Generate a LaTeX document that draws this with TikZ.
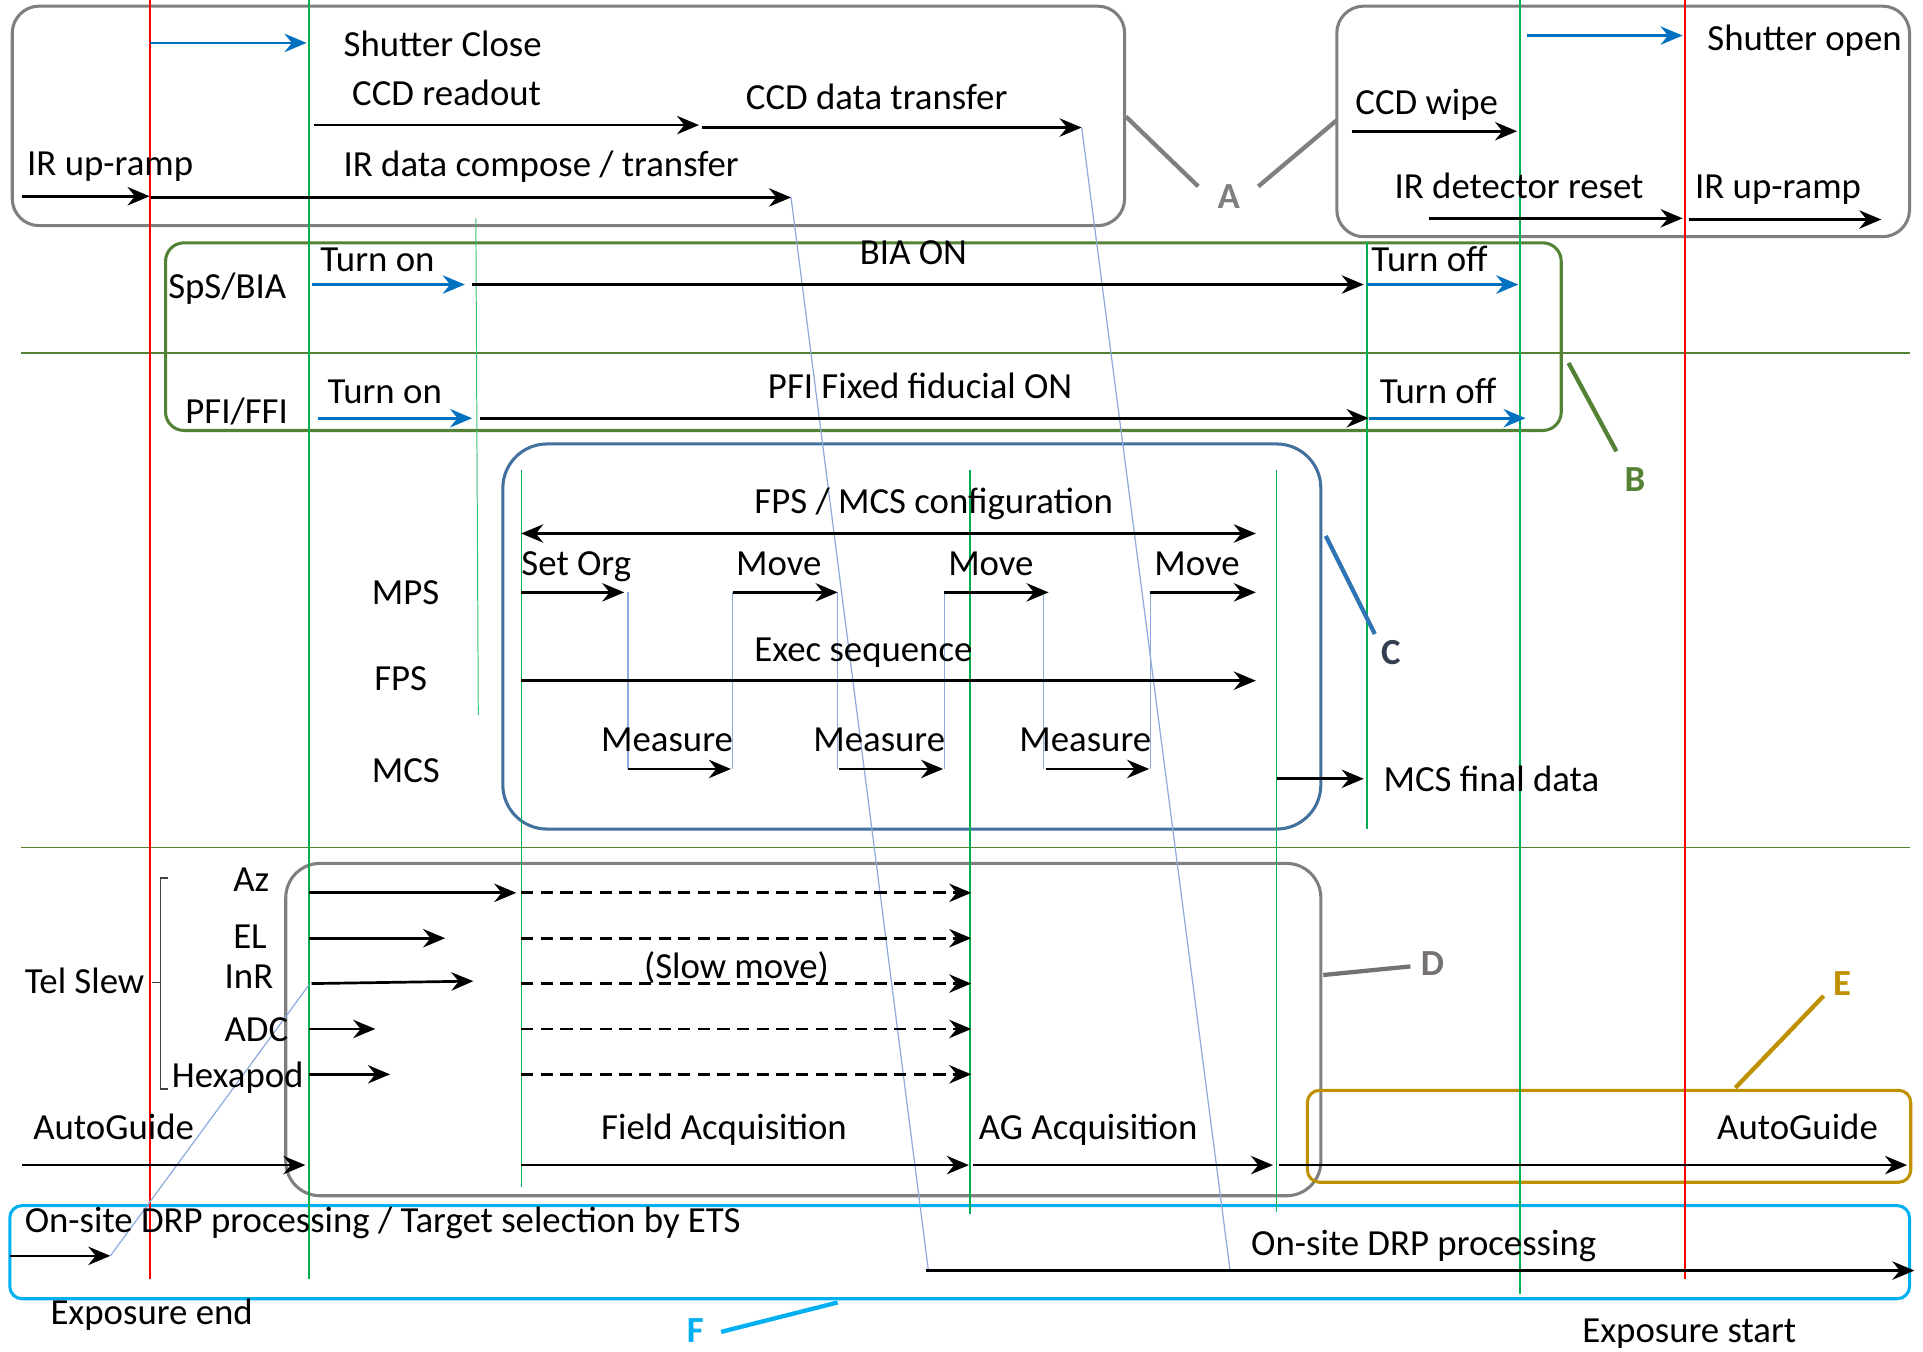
\documentclass[tikz,border=0pt]{standalone}
\usepackage{fontspec}
\setmainfont{Carlito}
\usetikzlibrary{arrows.meta}
\definecolor{framegray}{HTML}{7F7F7F}
\definecolor{labelgray}{HTML}{767171}
\definecolor{olive}{HTML}{548235}
\definecolor{steel}{HTML}{41719C}
\definecolor{leaderblue}{HTML}{2E75B6}
\definecolor{navy}{HTML}{333F50}
\definecolor{gold}{HTML}{BF9000}
\definecolor{cyanF}{HTML}{00B0F0}
\definecolor{sigblue}{HTML}{0070C0}
\definecolor{mark}{HTML}{00B050}
\definecolor{link}{HTML}{8FAADC}
% a segment between two named coordinates
\newcommand\segm[4][arr]{\coordinate (#2-s) at (#3); \coordinate (#2-e) at (#4); \draw[#1] (#2-s) -- (#2-e);}
\begin{document}
\begin{tikzpicture}[x=1pt,y=-1pt,
  lbl/.style={anchor=base west, inner sep=0pt, font=\fontsize{30}{34}\selectfont},
  tag/.style={inner sep=0pt, font=\fontsize{30}{34}\selectfont\bfseries},
  arr/.style={line width=2.2pt, -{Stealth[length=18pt,width=15pt,inset=6pt]}},
  barr/.style={arr, draw=sigblue, -{Stealth[length=18pt,width=15pt,inset=6pt,sigblue]}},
  darr/.style={arr, dash pattern=on 10pt off 6pt},
  dbl/.style={line width=2.2pt, {Stealth[length=18pt,width=15pt,inset=6pt]}-{Stealth[length=18pt,width=15pt,inset=6pt]}},
  frame/.style={line width=2.5pt},
  leader/.style={line width=3.5pt},
  timeline/.style={line width=1.6pt},
  thinmark/.style={line width=1pt, draw=mark},
  linkline/.style={line width=1pt, draw=link}]
\useasboundingbox (0,0) rectangle (1568,1102);

% ---------- group frames ----------
\draw[frame, framegray, rounded corners=22pt] (10,5) rectangle (917,184);
\draw[frame, framegray, rounded corners=22pt] (1090,5) rectangle (1557,193);
\draw[frame, olive, rounded corners=15pt] (135,198) rectangle (1273,351);
\draw[frame, steel, rounded corners=36pt] (410,362) rectangle (1077,676);
\draw[frame, framegray, rounded corners=28pt] (233,704) rectangle (1077,975);
\draw[frame, gold, rounded corners=10pt] (1066,889) rectangle (1558,964);
\draw[frame, cyanF, rounded corners=10pt] (8,983) rectangle (1557,1059);

% ---------- section separators ----------
\coordinate (sep1-w) at (17,288); \coordinate (sep1-e) at (1557,288);
\coordinate (sep2-w) at (17,691); \coordinate (sep2-e) at (1557,691);
\draw[line width=1.5pt, olive] (sep1-w) -- (sep1-e);
\draw[line width=1.5pt, olive] (sep2-w) -- (sep2-e);

% ---------- time markers ----------
\segm[timeline, draw=red]{endmark}{122,0}{122,1043}
\segm[timeline, draw=mark]{m1}{252,0}{252,1043}
\segm[line width=0.8pt, draw=mark!80]{m2}{388,178}{390,583}
\segm[thinmark]{m3}{425,383}{425,968}
\segm[thinmark]{m4}{791,383}{791,990}
\segm[thinmark]{m5}{1041,383}{1041,988}
\segm[timeline, draw=mark]{m6}{1115,197}{1115,676}
\segm[timeline, draw=mark]{m7}{1239,0}{1239,1055}
\segm[timeline, draw=red]{startmark}{1374,0}{1374,1043}

% ---------- dependency links ----------
\segm[linkline]{lk1}{90,1024}{252,803}
\segm[linkline]{lk2}{645,161}{757,1036}
\segm[linkline]{lk3}{882,104}{1003,1036}
\foreach \xx [count=\i] in {512,597,683,770,851,938}
  {\coordinate (v\i-s) at (\xx,483); \coordinate (v\i-e) at (\xx,627); \draw[linkline] (v\i-s) -- (v\i-e);}

% ---------- detector group ----------
\segm[barr]{shc}{122,35}{250,35}
\node[lbl] (tShc) at (280,46) {Shutter Close};
\segm{ro}{256,102}{570,102}
\node[lbl] (tRo) at (287,86) {CCD readout};
\segm{dt}{572,104}{882,104}
\node[lbl] (tDt) at (608,89) {CCD data transfer};
\segm{irl}{18,160}{122,160}
\node[lbl] (tIrl) at (22,143) {IR up-ramp};
\segm{irc}{123,161}{645,161}
\node[lbl] (tIrc) at (280,144) {IR data compose / transfer};

\segm[barr]{sho}{1245,29}{1372,29}
\node[lbl] (tSho) at (1392,41) {Shutter open};
\segm{wipe}{1102,107}{1237,107}
\node[lbl] (tWipe) at (1105,93) {CCD wipe};
\segm{rst}{1165,178}{1372,178}
\node[lbl] (tRst) at (1137,162) {IR detector reset};
\segm{irr}{1377,179}{1534,179}
\node[lbl] (tIrr) at (1382,162) {IR up-ramp};

% ---------- lamps ----------
\node[lbl] (tSps) at (137,243) {SpS/BIA};
\segm[barr]{bon}{254,232}{379,232}
\node[lbl] (tBon) at (261,221) {Turn on};
\segm{bia}{385,232}{1112,232}
\node[lbl] (tBia) at (701,216) {BIA ON};
\segm[barr]{boff}{1115,232}{1238,232}
\node[lbl] (tBoff) at (1118,221) {Turn off};

\node[lbl] (tPfi) at (151,345) {PFI/FFI};
\segm[barr]{pon}{259,341}{385,341}
\node[lbl] (tPon) at (267,329) {Turn on};
\segm{ffi}{391,341}{1116,341}
\node[lbl] (tFfi) at (626,325) {PFI Fixed fiducial ON};
\segm[barr]{poff}{1116,341}{1244,341}
\node[lbl] (tPoff) at (1125,329) {Turn off};

% ---------- positioner / metrology ----------
\node[lbl] (tMps) at (303,493) {MPS};
\node[lbl] (tFps) at (305,563) {FPS};
\node[lbl] (tMcs) at (303,638) {MCS};
\segm[dbl]{cfg}{425,435}{1024,435}
\node[lbl] (tCfg) at (615,419) {FPS / MCS configuration};
\segm{so}{425,483}{509,483}
\node[lbl] (tSo) at (425,469) {Set Org};
\segm{mv1}{598,483}{683,483}
\node[lbl] (tMv1) at (600,469) {Move};
\segm{mv2}{770,483}{855,483}
\node[lbl] (tMv2) at (773,469) {Move};
\segm{mv3}{938,483}{1024,483}
\node[lbl] (tMv3) at (941,469) {Move};
\segm{ex}{425,555}{1024,555}
\node[lbl] (tEx) at (615,539) {Exec sequence};
\segm{ms1}{512,627}{596,627}
\node[lbl] (tMs1) at (490,613) {Measure};
\segm{ms2}{684,627}{769,627}
\node[lbl] (tMs2) at (663,613) {Measure};
\segm{ms3}{853,627}{937,627}
\node[lbl] (tMs3) at (831,613) {Measure};
\segm{fin}{1041,635}{1112,635}
\node[lbl] (tFin) at (1128,645) {MCS final data};

% ---------- telescope ----------
\node[lbl] (tSlew) at (20,810) {Tel Slew};
\coordinate (br-t) at (137,716); \coordinate (br-b) at (137,888); \coordinate (br-m) at (124,801);
\draw[line width=1.2pt, black!75] (br-t) -- ++(-6,0) |- (br-b);
\draw[line width=1.2pt, black!75] (br-m) -- ++(7,0);
\node[lbl] (tAz) at (190,727) {Az};
\segm{az}{252,728}{421,728}
\segm[darr]{azs}{425,728}{792,728}
\node[lbl] (tEl) at (190,773) {EL};
\segm{el}{252,765}{363,765}
\segm[darr]{els}{425,765}{792,765}
\node[lbl] (tInr) at (183,806) {InR};
\segm{inr}{254,802}{386,800}
\segm[darr]{inrs}{425,802}{792,802}
\node[lbl] (tSlow) at (525,798) {(Slow move)};
\node[lbl] (tAdc) at (183,849) {ADC};
\segm{adc}{252,839}{306,839}
\segm[darr]{adcs}{425,839}{792,839}
\node[lbl] (tHex) at (140,887) {Hexapod};
\segm{hex}{252,876}{318,876}
\segm[darr]{hexs}{425,876}{792,876}

% ---------- guiding ----------
\node[lbl] (tAg1) at (27,929) {AutoGuide};
\segm{ag1}{18,950}{249,950}
\segm{fa}{425,950}{790,950}
\node[lbl] (tFa) at (490,929) {Field Acquisition};
\segm{aga}{793,950}{1038,950}
\node[lbl] (tAga) at (798,929) {AG Acquisition};
\segm{ag2}{1043,950}{1555,950}
\node[lbl] (tAg2) at (1400,929) {AutoGuide};

% ---------- data reduction ----------
\node[lbl] (tDrp1) at (20,1005) {On-site DRP processing / Target selection by ETS};
\segm{drp1}{8,1024}{90,1024}
\node[lbl] (tDrp2) at (1020,1024) {On-site DRP processing};
\segm{drp2}{755,1036}{1561,1036}
\node[lbl] (tEnd) at (41,1080) {Exposure end};
\node[lbl] (tStart) at (1290,1095) {Exposure start};

% ---------- group tags ----------
\node[tag, text=framegray] (A) at (1002,160) {A};
\coordinate (A1) at (918,95); \coordinate (A1e) at (977,152);
\coordinate (A2) at (1090,98); \coordinate (A2e) at (1026,152);
\draw[leader, framegray] (A1) -- (A1e);
\draw[leader, framegray] (A2) -- (A2e);
\node[tag, text=olive] (B) at (1333,391) {B};
\coordinate (B1) at (1279,296); \coordinate (B1e) at (1318,368);
\draw[leader, olive] (B1) -- (B1e);
\node[tag, text=navy] (C) at (1134,532) {C};
\coordinate (C1) at (1081,437); \coordinate (C1e) at (1121,517);
\draw[leader, leaderblue] (C1) -- (C1e);
\node[tag, text=labelgray] (D) at (1168,786) {D};
\coordinate (D1) at (1079,795); \coordinate (D1e) at (1150,788);
\draw[leader, labelgray] (D1) -- (D1e);
\node[tag, text=gold] (E) at (1502,802) {E};
\coordinate (E1) at (1415,887); \coordinate (E1e) at (1487,812);
\draw[leader, gold] (E1) -- (E1e);
\node[tag, text=cyanF] (F) at (567,1085) {F};
\coordinate (F1) at (683,1062); \coordinate (F1e) at (588,1086);
\draw[leader, cyanF] (F1) -- (F1e);
\end{tikzpicture}
\end{document}
